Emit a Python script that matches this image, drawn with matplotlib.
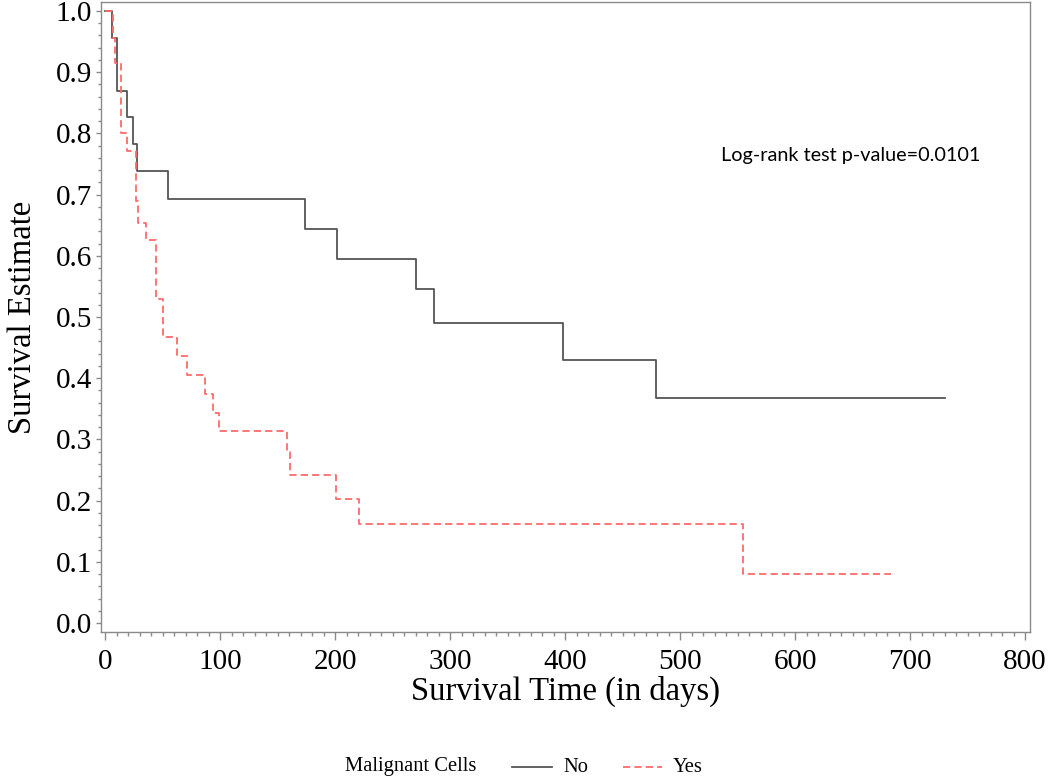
import matplotlib
matplotlib.use("Agg")
import matplotlib.pyplot as plt
from matplotlib.lines import Line2D
from matplotlib.ticker import MultipleLocator

# Data
no_time = [0, 6, 10, 19, 24, 28, 55, 174, 202, 270, 286, 398, 479, 730]
no_surv = [1.0, 0.956, 0.870, 0.826, 0.783, 0.739, 0.693, 0.644, 0.594,
           0.545, 0.491, 0.429, 0.368, 0.368]

yes_time = [0, 7, 9, 14, 19, 27, 29, 36, 44, 50, 63, 71, 87, 94, 99,
            158, 161, 201, 221, 555, 683]
yes_surv = [1.0, 0.956, 0.915, 0.80, 0.772, 0.69, 0.653, 0.625, 0.53, 0.467,
            0.437, 0.406, 0.374, 0.343, 0.313, 0.28, 0.242, 0.203, 0.162,
            0.080, 0.080]

group_labels = ["No", "Yes"]
legend_title = "Malignant Cells"
annotation = "Log-rank test p-value=0.0101"
x_ticks = [0, 100, 200, 300, 400, 500, 600, 700, 800]
y_ticks = [0.0, 0.1, 0.2, 0.3, 0.4, 0.5, 0.6, 0.7, 0.8, 0.9, 1.0]

serif = "Liberation Serif"
no_color = "#555555"
yes_color = "#ff6b6b"
frame_color = "#8a8a8a"

fig = plt.figure(figsize=(10.5, 7.79), dpi=100)
ax = fig.add_axes([101 / 1050, 1 - 632 / 779, (1030 - 101) / 1050, 630 / 779])

ax.step(no_time, no_surv, where="post", color=no_color, lw=1.3)
ax.step(yes_time, yes_surv, where="post", color=yes_color, lw=1.3,
        dashes=(4, 2.3))

ax.set_xlim(-3.5, 804.3)
ax.set_ylim(-0.0147, 1.0147)
ax.set_xticks(x_ticks)
ax.set_yticks(y_ticks)
ax.set_xticklabels([str(v) for v in x_ticks])
ax.set_yticklabels([f"{v:.1f}" for v in y_ticks])
ax.xaxis.set_minor_locator(MultipleLocator(10))
ax.yaxis.set_minor_locator(MultipleLocator(0.02))

for s in ax.spines.values():
    s.set_color(frame_color)
    s.set_linewidth(1.0)

ax.tick_params(axis="x", which="major", length=6, width=1, color=frame_color,
               labelsize=21, pad=6)
ax.tick_params(axis="x", which="minor", length=3, width=1, color=frame_color)
ax.tick_params(axis="y", which="major", length=3.5, width=1, color=frame_color,
               labelsize=21, pad=3)
ax.tick_params(axis="y", which="minor", length=2.5, width=1, color=frame_color)
for lab in ax.get_xticklabels() + ax.get_yticklabels():
    lab.set_fontfamily(serif)

ax.set_xlabel("Survival Time (in days)", fontsize=23.5, family=serif, labelpad=1)
ax.set_ylabel("Survival Estimate", fontsize=23.5, family=serif, labelpad=13)

ax.text(0.667, 0.757, annotation, transform=ax.transAxes, fontsize=14.3,
        family="Lato", ha="left", va="center")

# Legend row below the plot
ly = 1 - 767 / 779
fig.text(345 / 1050, ly, legend_title, fontsize=14.8, family=serif,
         ha="left", va="center")
fig.add_artist(Line2D([512 / 1050, 552 / 1050], [ly, ly], color=no_color,
                      lw=1.3, transform=fig.transFigure))
fig.text(563 / 1050, ly, group_labels[0], fontsize=14.8, family=serif,
         ha="left", va="center")
fig.add_artist(Line2D([623 / 1050, 662 / 1050], [ly, ly], color=yes_color,
                      lw=1.3, dashes=(4, 2.3), transform=fig.transFigure))
fig.text(673 / 1050, ly, group_labels[1], fontsize=14.8, family=serif,
         ha="left", va="center")

fig.savefig("out.png", dpi=100)
